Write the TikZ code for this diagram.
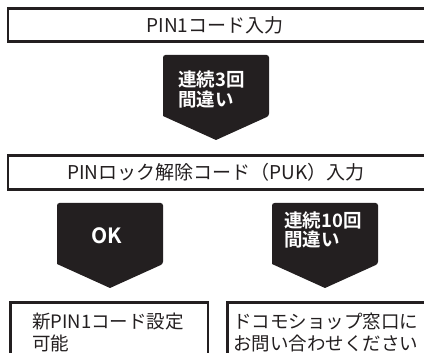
\documentclass[tikz,border=0pt]{standalone}
\usepackage{fontspec}
\setmainfont{Noto Sans CJK JP}[BoldFont={Noto Sans CJK JP Bold}]
\definecolor{ink}{HTML}{231F20}
\tikzset{
  framebox/.style={draw=ink,line width=2.3pt},
  boxtext/.style={inner sep=0pt,font=\fontsize{19}{22}\selectfont,text=ink},
  lowtext/.style={inner sep=0pt,font=\fontsize{18.5}{22}\selectfont,text=ink,anchor=north west,align=left},
  arrowtext/.style={inner sep=0pt,font=\bfseries\fontsize{18.5}{19.5}\selectfont,text=white,align=left},
  pics/darrow/.style={code={
    \fill[ink,rounded corners=2.5pt] (-53,61) -- (-53,0) -- (53,0) -- (53,61) [sharp corners] -- (0,85) -- cycle;
  }}
}
\begin{document}
\begin{tikzpicture}[x=1pt,y=-1pt]
\useasboundingbox (0,0) rectangle (424,353);
\fill[white] (0,0) rectangle (424,353);
\clip (0,0) rectangle (424,353);
% boxes
\draw[framebox] (8,8.5) rectangle (440,41.5);
\node[boxtext] (t1) at (215,25) {PIN1コード入力};
\pic at (216,55) {darrow};
\node[arrowtext,anchor=west] (a1) at (178,89.5) {連続3回\\間違い};
\draw[framebox] (8,155.5) rectangle (440,189.5);
\node[boxtext] (t2) at (216,172) {PINロック解除コード（PUK）入力};
\pic at (110,203) {darrow};
\node[arrowtext,font=\bfseries\fontsize{21}{21}\selectfont] (a2) at (107,236) {OK};
\pic at (325,203) {darrow};
\node[arrowtext,anchor=west] (a3) at (284,230) {連続10回\\間違い};
\draw[framebox] (10.5,302.5) rectangle (208,370);
\node[lowtext] (t3) at (32,313) {新PIN1コード設定\\可能};
\draw[framebox] (227.5,302.5) rectangle (440,370);
\node[lowtext] (t4) at (233,313) {ドコモショップ窓口に\\お問い合わせください};
\end{tikzpicture}
\end{document}
